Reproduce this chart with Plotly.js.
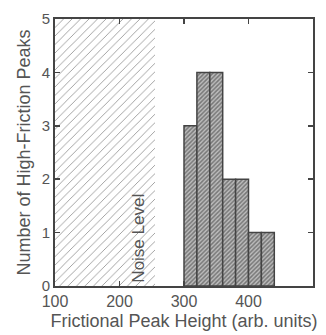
<!DOCTYPE html>
<html><head><meta charset="utf-8">
<script src="https://cdn.plot.ly/plotly-3.0.1.min.js"></script>
<style>html,body{margin:0;padding:0;background:#fff}</style>
</head><body>
<div id="chart" style="width:326px;height:335px"></div>
<script>
// histogram bins (left edges, width 20) and counts
const binStarts = [300, 320, 340, 360, 380, 400, 420];
const binWidth = 20;
const counts = [3, 4, 4, 2, 2, 1, 1];
// noise region
const noiseStart = 100;
const noiseEnd = 255;
const noiseLabel = "Noise Level";
const xTicks = [100, 200, 300, 400, 500];
const yTicks = [0, 1, 2, 3, 4, 5];

const binCenters = binStarts.map(s => s + binWidth / 2);

const noiseTrace = {
  type: 'scatter', mode: 'lines',
  x: [noiseStart, noiseEnd, noiseEnd, noiseStart, noiseStart],
  y: [0, 0, 5, 5, 0],
  fill: 'toself',
  fillcolor: 'rgba(0,0,0,0)',
  fillpattern: {shape: '/', fgcolor: '#9a9a9a', bgcolor: '#fff', size: 6, solidity: 0.15},
  line: {width: 0, color: 'rgba(0,0,0,0)'},
  hoverinfo: 'skip', showlegend: false
};

const barTrace = {
  type: 'bar',
  x: binCenters, y: counts,
  width: binWidth,
  marker: {
    color: '#a8a8a8',
    line: {color: '#444', width: 1.5},
    pattern: {shape: '/', fgcolor: '#777', bgcolor: '#bdbdbd', size: 3, solidity: 0.5}
  },
  showlegend: false
};

const fontFam = 'Liberation Sans, Arial, sans-serif';
const layout = {
  width: 326, height: 335,
  margin: {l: 55, r: 13, t: 19, b: 49},
  paper_bgcolor: '#fff', plot_bgcolor: '#fff',
  font: {family: fontFam, color: '#555', size: 16},
  bargap: 0,
  xaxis: {
    range: [100, 500], tickvals: xTicks, ticktext: xTicks.map(String),
    ticks: 'inside', ticklen: 5, tickwidth: 1.5, tickcolor: '#444',
    showline: true, linecolor: '#444', linewidth: 2, mirror: 'ticks',
    showgrid: false, zeroline: false,
    tickfont: {size: 16, color: '#555'},
    ticklabelstandoff: 0,
    title: {text: 'Frictional Peak Height (arb. units)', font: {size: 18, color: '#555'}, standoff: 5}
  },
  yaxis: {
    range: [0, 5], tickvals: yTicks, ticktext: yTicks.map(String),
    ticks: 'inside', ticklen: 5, tickwidth: 1.5, tickcolor: '#444',
    showline: true, linecolor: '#444', linewidth: 2, mirror: 'ticks',
    showgrid: false, zeroline: false,
    tickfont: {size: 15, color: '#555'},
    ticklabelstandoff: 0,
    title: {text: 'Number of High-Friction Peaks', font: {size: 18, color: '#555'}, standoff: 6}
  },
  annotations: [{
    x: 229, y: 0.02, xref: 'x', yref: 'y',
    text: noiseLabel, textangle: -90, showarrow: false,
    xanchor: 'center', yanchor: 'bottom',
    font: {size: 17, color: '#555', family: fontFam},
    bgcolor: 'rgba(255,255,255,0)'
  }]
};

Plotly.newPlot('chart', [noiseTrace, barTrace], layout, {displayModeBar: false, staticPlot: true});
</script>
</body></html>
